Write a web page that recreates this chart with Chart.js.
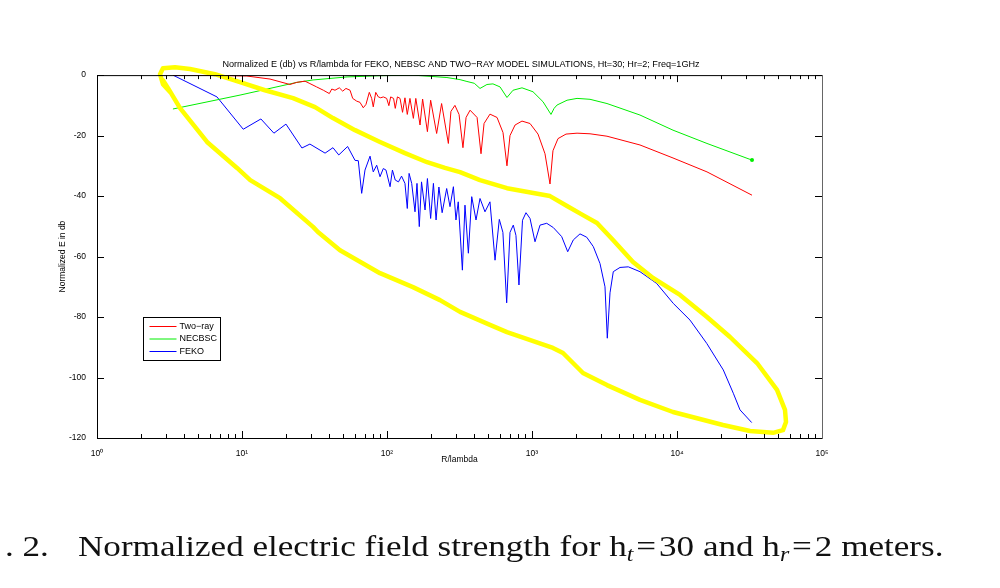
<!DOCTYPE html>
<html>
<head>
<meta charset="utf-8">
<script src="https://cdn.jsdelivr.net/npm/chart.js@4.4.1/dist/chart.umd.min.js"></script>
<style>
  body { margin: 0; background: #fff; width: 1000px; height: 588px; overflow: hidden; position: relative; }
  #chart { position: absolute; left: 0; top: 0; }
  .caption { position: absolute; top: 531px; font-family: 'Liberation Serif', 'Times New Roman', serif; font-size: 30px; color: #111; white-space: nowrap; line-height: 30px; transform-origin: 0 0; transform: scaleX(1.17); }
  .caption sub { font-size: 68%; vertical-align: -0.25em; line-height: 0; }
</style>
</head>
<body>
<canvas id="chart" width="1000" height="588"></canvas>
<div class="caption" style="left:5px">. 2.</div>
<div class="caption" style="left:78px">Normalized electric field strength for h<sub><i>t</i></sub>&#8202;=&#8202;30 and h<sub><i>r</i></sub>&#8202;=&#8202;2 meters.</div>
<script>
// [R/lambda, normalized E in dB]
const twoRay = [
  [3.34, 0], [5.13, 0], [10.8, -0.3], [15.6, -1.3], [21.4, -3.1], [23.8, -2.4], [27.2, -2.0],
  [29.4, -2.8], [32.7, -3.9], [36.4, -5.0], [40.0, -6.1], [41.6, -4.6], [43.8, -5.0], [46.9, -4.2],
  [49.5, -5.3], [52.1, -4.4], [55.6, -5.0], [58.0, -7.7], [61.8, -8.6], [65.1, -9.0], [68.6, -10.8],
  [71.6, -9.7], [75.5, -5.7], [78.4, -7.7], [80.4, -10.5], [83.6, -5.7], [87.1, -7.2], [90.5, -7.5],
  [94.3, -7.2], [99.5, -7.7], [103, -10.1], [106, -7.2], [111, -7.7], [114, -11.0], [118, -7.2],
  [123, -7.7], [128, -12.3], [133, -7.5], [138, -13.0], [144, -7.7], [152, -14.3], [158, -7.7],
  [169, -16.5], [176, -7.9], [190, -18.7], [200, -8.3], [220, -19.3], [238, -9.4], [265, -22.6],
  [276, -12], [294, -10], [314, -13], [334, -24], [351, -14], [374, -11.6], [418, -14], [445, -26],
  [467, -16], [513, -12.9], [574, -14], [631, -19], [672, -30], [705, -20], [764, -16.5], [853, -15.2],
  [969, -16], [1100, -19.5], [1229, -26], [1331, -36], [1395, -25], [1511, -21], [1716, -19.5],
  [2044, -19.2], [2512, -19.4], [3290, -20.2], [5556, -23.1], [9385, -27.4], [16100, -32], [32900, -39.7]
];
const necbsc = [
  [3.34, -11.2], [9.69, -6.6], [23.9, -2.4], [30.9, -1.6], [53.0, -0.6], [89.5, -0.2], [151, 0],
  [259, -0.8], [319, -1.5], [356, -2.1], [400, -2.7], [438, -4.4], [489, -3.1], [538, -2.9],
  [602, -3.9], [672, -7.4], [740, -5.0], [853, -4.2], [1016, -5.5], [1191, -8.8], [1352, -13.0],
  [1420, -11], [1488, -9.9], [1744, -8.3], [2044, -7.7], [2512, -8.0], [3290, -9.4], [5556, -13.2],
  [9385, -18.2], [16100, -22.6], [32900, -28.1]
];
const feko = [
  [3.34, 0], [6.72, -7.2], [10.2, -17.9], [13.5, -14.5], [16.6, -19.2], [20.1, -16.2], [25.9, -24.1],
  [29.4, -22.8], [37.4, -25.8], [42.4, -24.0], [46.5, -26.4], [53.5, -23.6], [60.2, -28.2], [63.4, -28.3],
  [66.9, -39.1], [70.5, -31.4], [76.4, -26.8], [80.4, -32.0], [84.9, -29.8], [89.5, -33.6], [94.3, -30.9],
  [98.4, -31.4], [105, -36.9], [109, -31.4], [114, -34.7], [120, -35.3], [126, -33.4], [133, -35.8],
  [138, -44.1], [142, -32.5], [148, -35.8], [156, -45.2], [161, -35.8], [167, -50.1], [173, -35.3],
  [183, -44.6], [190, -34.2], [200, -47.4], [209, -35.8], [218, -47.9], [228, -37], [240, -45.5],
  [258, -37.5], [272, -43.5], [287, -36.9], [299, -47.9], [310, -41.9], [331, -64.5], [345, -43],
  [364, -58.9], [384, -40.2], [411, -47.9], [438, -40.8], [474, -45.2], [513, -41.9], [556, -61.2],
  [595, -47.7], [630, -52], [669, -75.3], [705, -52], [743, -49.6], [775, -53], [813, -69.4], [860, -48],
  [909, -45.5], [969, -47.4], [1049, -55.1], [1136, -49.6], [1263, -49], [1402, -50.4], [1602, -53.4],
  [1763, -58.4], [1927, -54.5], [2143, -52.5], [2384, -53.6], [2647, -56.7], [2944, -62.3], [3187, -70],
  [3306, -87], [3451, -72], [3636, -65], [4045, -63.6], [4615, -63.4], [5556, -65], [7244, -68.9],
  [9430, -75.5], [12290, -81], [16030, -88.7], [20860, -97.5], [24450, -105.2], [27200, -110.7], [32750, -114.9]
];
// hand-drawn yellow loop on top of the plot
const highlight = [
  [3.19, -5.6], [2.85, -3.0], [2.72, 0.3], [2.85, 2.3], [3.45, 2.6], [4.38, 2.0], [6.51, 0.3],
  [9.69, -2.3], [14.4, -5.0], [22.5, -7.6], [31.9, -10.6], [42.4, -14.2], [60.2, -18.2], [89.5, -22.1],
  [133, -25.8], [189, -28.8], [251, -30.7], [319, -32.1], [438, -34.7], [672, -37.4], [1331, -40.0],
  [1744, -43.3], [2247, -46.3], [2807, -48.9], [3620, -54.5], [4973, -61.8], [6832, -67.1],
  [10490, -72.7], [16100, -80.0], [23210, -86.6], [35630, -95.2], [48950, -104.1], [55560, -110.7],
  [56450, -114.7], [53830, -117.4], [45940, -118.3], [31870, -117.7], [20760, -115.7], [9385, -111.4],
  [5556, -107.4], [3290, -102.5], [2247, -98.5], [1636, -91.9], [1395, -90.2], [672, -85.0],
  [513, -82.6], [319, -78.3], [232, -74.4], [151, -70.1], [89.5, -65.5], [47.4, -57.9], [33.4, -51.9],
  [30.9, -50.2], [18.3, -40.7], [11.4, -34.7], [9.24, -30.7], [5.74, -22.1], [3.74, -10.9],
  [3.09, -4.3], [2.85, -1.7]
];

const seriesNames = ['Two\u2212ray', 'NECBSC', 'FEKO'];
const seriesColors = ['#ff0000', '#00ee00', '#0000ff'];
const xTicks = [1, 10, 100, 1000, 10000, 100000];
const supDigits = ['\u2070', '\u00b9', '\u00b2', '\u00b3', '\u2074', '\u2075'];
const chartTitle = 'Normalized E (db) vs R/lambda for FEKO, NEBSC AND TWO\u2212RAY MODEL SIMULATIONS, Ht=30; Hr=2; Freq=1GHz';
const font = "'Liberation Sans', Arial, Helvetica, sans-serif";

const toPts = arr => arr.map(p => ({ x: p[0], y: p[1] }));

// inward ticks, top edge and legend, like the matlab figure
const frame = {
  id: 'frame',
  afterDraw(chart) {
    const c = chart.ctx, a = chart.chartArea;
    const xs = chart.scales.x, ys = chart.scales.y;
    c.save();
    c.strokeStyle = '#000';
    c.lineWidth = 1;
    c.beginPath();
    c.moveTo(a.left, a.top + 0.5);
    c.lineTo(a.right, a.top + 0.5);
    for (let k = 0; k < 5; k++) {
      for (let m = 1; m < 10; m++) {
        const px = Math.round(xs.getPixelForValue(m * Math.pow(10, k))) + 0.5;
        const len = m === 1 ? 7 : 4;
        c.moveTo(px, a.bottom); c.lineTo(px, a.bottom - len);
        c.moveTo(px, a.top); c.lineTo(px, a.top + len);
      }
    }
    for (let v = -120; v <= 0; v += 20) {
      const py = Math.round(ys.getPixelForValue(v)) + 0.5;
      c.moveTo(a.left, py); c.lineTo(a.left + 7, py);
      c.moveTo(a.right, py); c.lineTo(a.right - 7, py);
    }
    c.stroke();

    // legend box
    const bx = 143.5, by = 317.5, bw = 77, bh = 43;
    c.fillStyle = '#fff';
    c.fillRect(bx, by, bw, bh);
    c.strokeStyle = '#000';
    c.strokeRect(bx, by, bw, bh);
    c.font = "9px " + font;
    c.textBaseline = 'middle';
    seriesNames.forEach((name, i) => {
      const y = by + 9 + i * 12.5;
      c.strokeStyle = seriesColors[i];
      c.beginPath();
      c.moveTo(bx + 6, y); c.lineTo(bx + 33, y);
      c.stroke();
      c.fillStyle = '#000';
      c.fillText(name, bx + 36, y);
    });
    c.restore();
  }
};

new Chart(document.getElementById('chart'), {
  type: 'line',
  data: {
    datasets: [
      { label: 'highlight', data: toPts(highlight), borderColor: '#ffff00', borderWidth: 4.5,
        pointRadius: 0, clip: false, borderJoinStyle: 'round', borderCapStyle: 'round', order: -1 },
      { label: seriesNames[0], data: toPts(twoRay), borderColor: seriesColors[0], borderWidth: 1, pointRadius: 0 },
      { label: seriesNames[1], data: toPts(necbsc), borderColor: seriesColors[1], borderWidth: 1,
        pointRadius: ctx => ctx.dataIndex === necbsc.length - 1 ? 2 : 0, pointBackgroundColor: seriesColors[1],
        pointBorderWidth: 0 },
      { label: seriesNames[2], data: toPts(feko), borderColor: seriesColors[2], borderWidth: 1, pointRadius: 0 }
    ]
  },
  options: {
    responsive: false,
    animation: false,
    events: [],
    layout: { padding: { left: 0, right: 78, top: 0, bottom: 0 } },
    plugins: {
      legend: { display: false },
      tooltip: { enabled: false },
      title: {
        display: true,
        text: chartTitle,
        color: '#000',
        font: { family: font, size: 9.1, weight: 'normal' },
        padding: { top: 58.6, bottom: 5.6 }
      }
    },
    scales: {
      x: {
        type: 'logarithmic',
        min: 1,
        max: 100000,
        afterBuildTicks: s => { s.ticks = xTicks.map(v => ({ value: v })); },
        afterFit: s => { s.height = 150; },
        ticks: {
          color: '#000',
          font: { family: font, size: 8.5 },
          padding: 3,
          maxRotation: 0,
          callback: v => '10' + supDigits[Math.round(Math.log10(v))]
        },
        grid: { display: false },
        border: { color: '#000', width: 1 },
        title: { display: true, text: 'R/lambda', color: '#000',
          font: { family: font, size: 8.5 }, padding: { top: 0, bottom: 122.9 } }
      },
      y: {
        min: -120,
        max: 0,
        afterFit: s => { s.width = 97; },
        ticks: { stepSize: 20, color: '#000', font: { family: font, size: 8.5 }, padding: 3 },
        grid: { display: false },
        border: { color: '#000', width: 1 },
        title: { display: true, text: 'Normalized E in db', color: '#000',
          font: { family: font, size: 8.5 }, padding: { top: 58, bottom: 0 } }
      },
      y2: {
        position: 'right',
        min: -120,
        max: 0,
        afterFit: s => { s.width = 100; },
        ticks: { display: false },
        grid: { display: false },
        border: { color: '#666', width: 1 }
      }
    }
  },
  plugins: [frame]
});
</script>
</body>
</html>
